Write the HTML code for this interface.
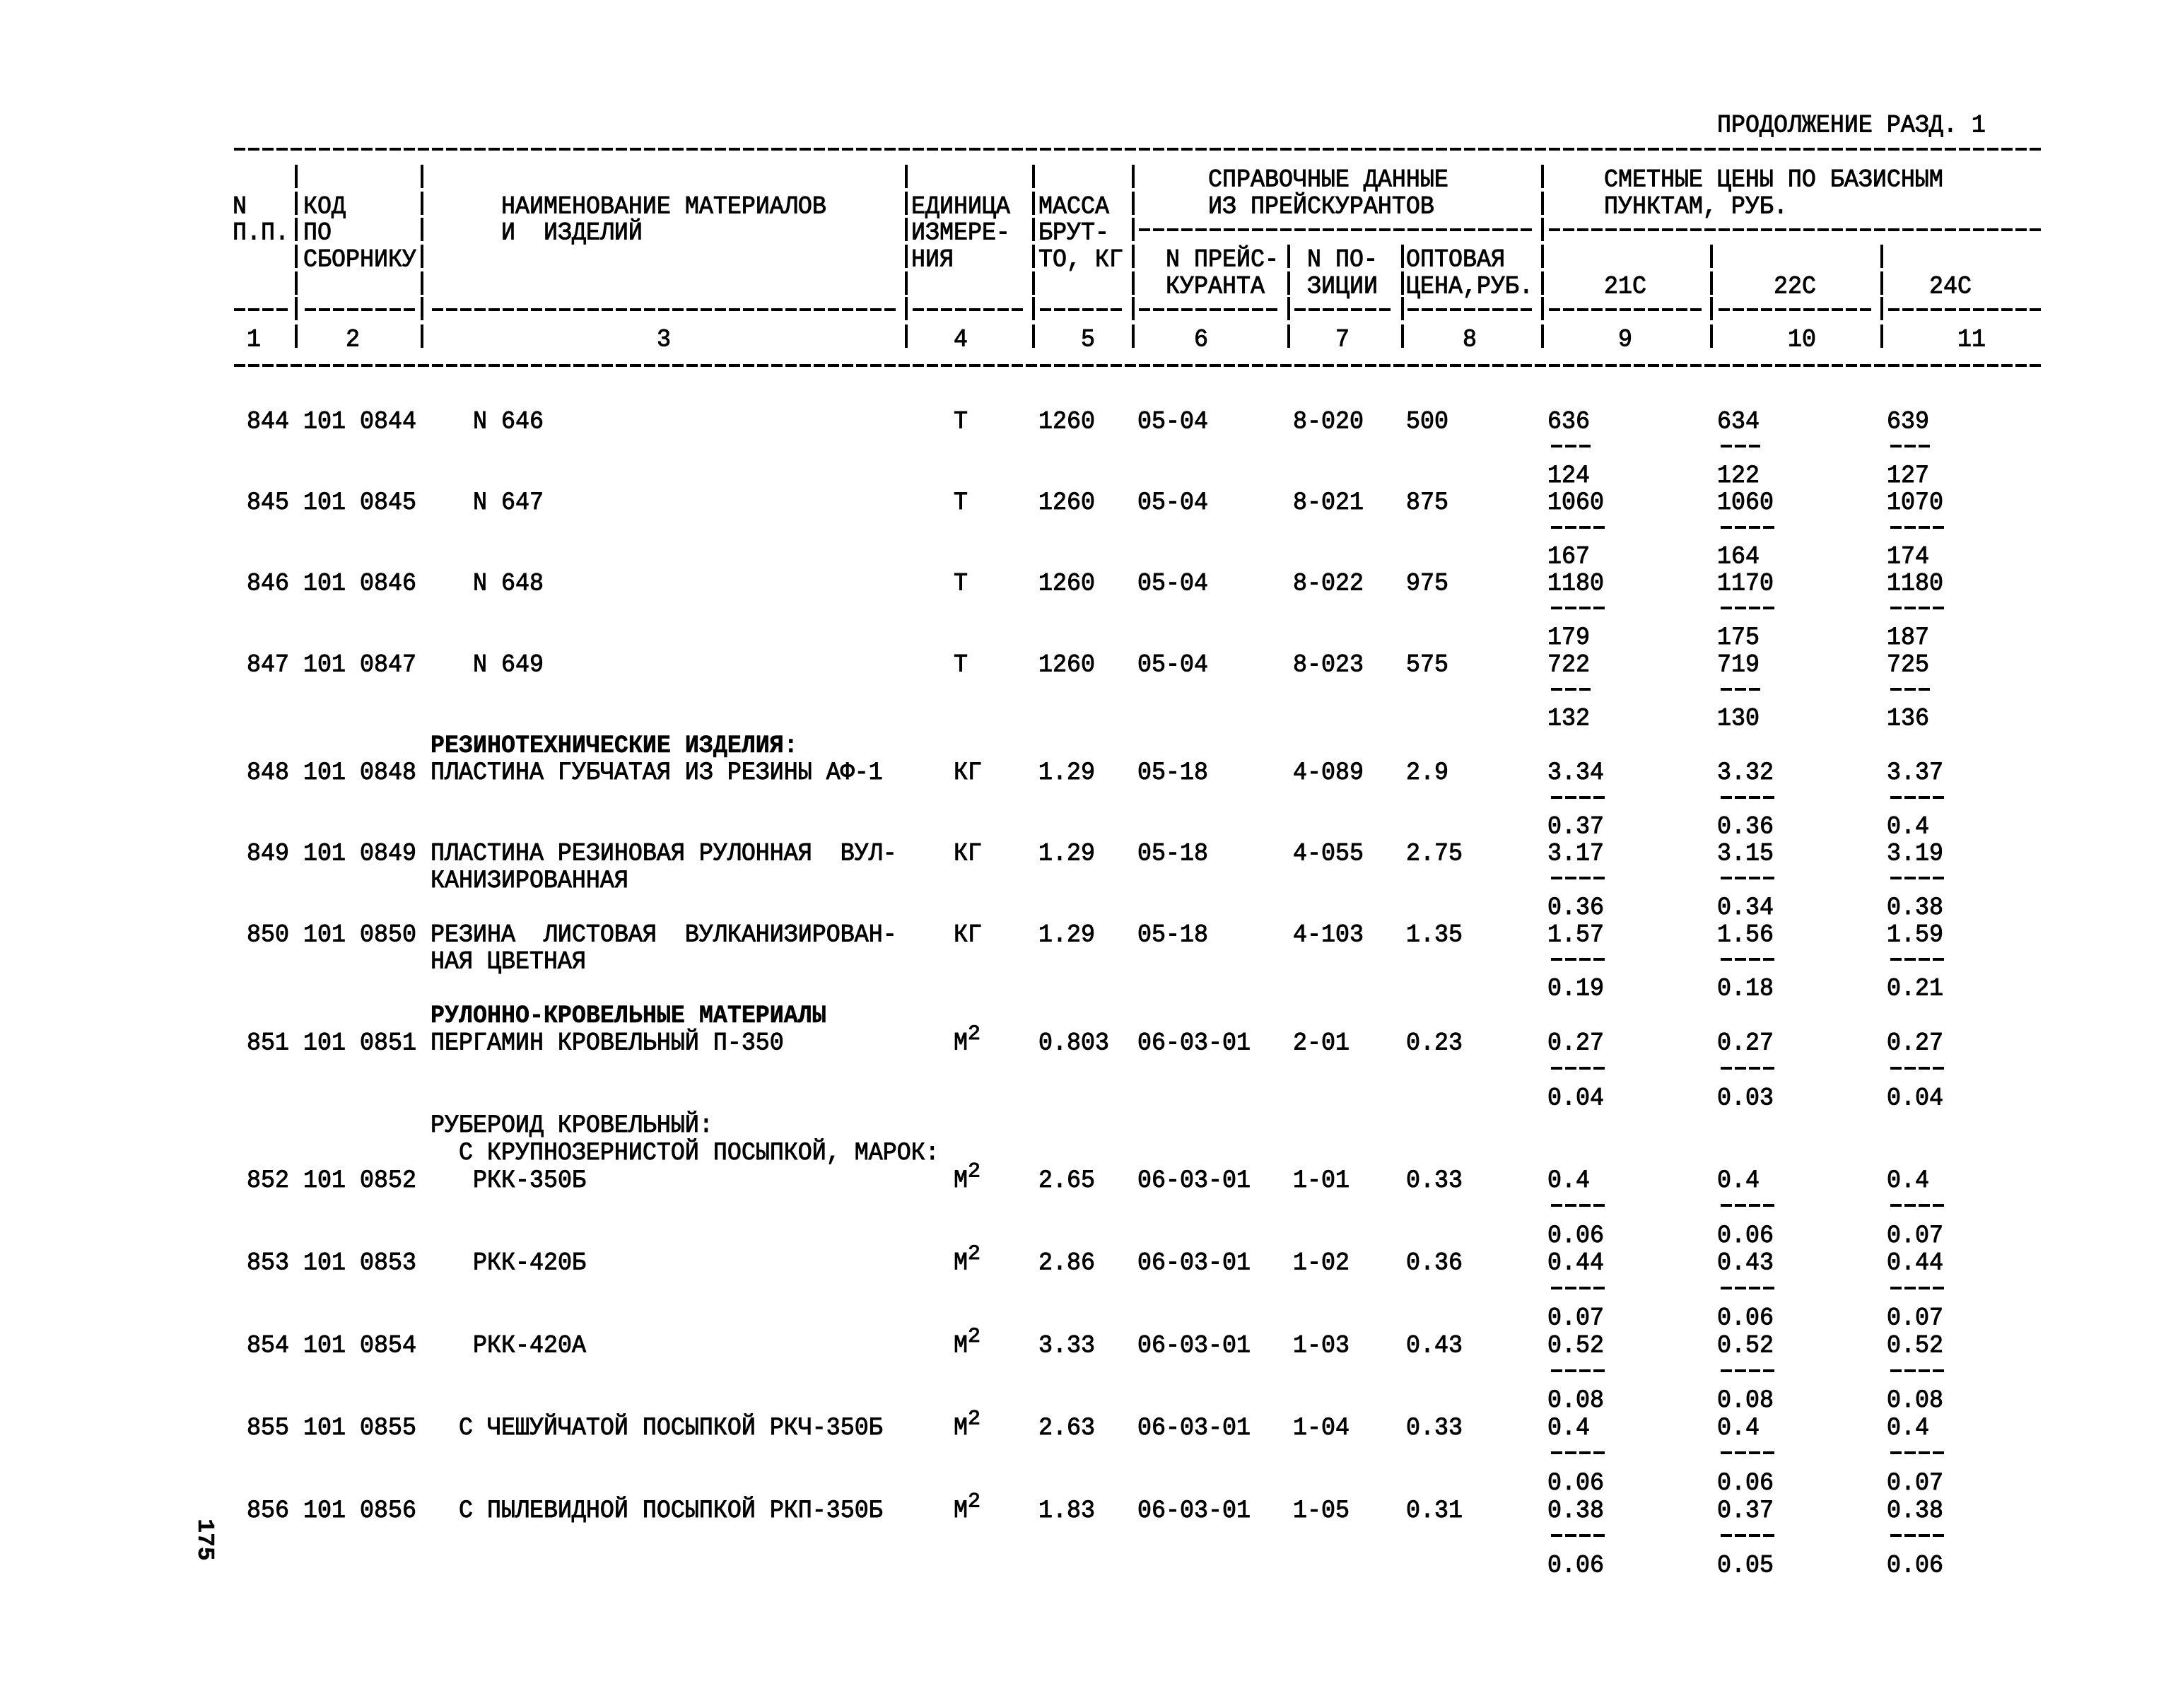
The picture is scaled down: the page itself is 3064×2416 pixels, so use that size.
<!DOCTYPE html>
<html><head><meta charset="utf-8">
<style>
html,body{margin:0;padding:0;background:#fff;}
svg{display:block}
text{font-family:"Liberation Mono","DejaVu Sans Mono",monospace;font-size:33.333px;fill:#000;white-space:pre;stroke:#000;stroke-width:0.9px;transform-box:fill-box;transform-origin:50% 50%;transform:scaleY(1.06)}
text.b{font-weight:bold;stroke-width:0.5px}
text.r{transform:none}
text.s{font-size:30px;transform:none}
line.d{stroke:#000;stroke-width:4;stroke-dasharray:16 4;fill:none}
path.v{stroke:#000;stroke-width:4;fill:none}
</style></head>
<body>
<svg width="3064" height="2416" viewBox="0 0 3064 2416" xmlns="http://www.w3.org/2000/svg" xml:space="preserve">
<rect width="3064" height="2416" fill="#fff"/>

<text x="2429" y="186">ПРОДОЛЖЕНИЕ РАЗД. 1</text>

<line class="d" x1="331" y1="211" x2="2887" y2="211"/>

<text x="1709" y="263">СПРАВОЧНЫЕ ДАННЫЕ</text>
<text x="2269" y="263">СМЕТНЫЕ ЦЕНЫ ПО БАЗИСНЫМ</text>
<text x="329" y="301">N</text>
<text x="429" y="301">КОД</text>
<text x="709" y="301">НАИМЕНОВАНИЕ МАТЕРИАЛОВ</text>
<text x="1289" y="301">ЕДИНИЦА</text>
<text x="1469" y="301">МАССА</text>
<text x="1709" y="301">ИЗ ПРЕЙСКУРАНТОВ</text>
<text x="2269" y="301">ПУНКТАМ, РУБ.</text>
<text x="329" y="338">П.П.</text>
<text x="429" y="338">ПО</text>
<text x="709" y="338">И  ИЗДЕЛИЙ</text>
<text x="1289" y="338">ИЗМЕРЕ-</text>
<text x="1469" y="338">БРУТ-</text>
<line class="d" x1="1611" y1="325" x2="2167" y2="325"/>
<line class="d" x1="2191" y1="325" x2="2887" y2="325"/>
<text x="429" y="376">СБОРНИКУ</text>
<text x="1289" y="376">НИЯ</text>
<text x="1469" y="376">ТО, КГ</text>
<text x="1649" y="376">N ПРЕЙС-</text>
<text x="1849" y="376">N ПО-</text>
<text x="1989" y="376">ОПТОВАЯ</text>
<text x="1649" y="414">КУРАНТА</text>
<text x="1849" y="414">ЗИЦИИ</text>
<text x="1989" y="414">ЦЕНА,РУБ.</text>
<text x="2269" y="414">21С</text>
<text x="2509" y="414">22С</text>
<text x="2729" y="414">24С</text>
<line class="d" x1="331" y1="438" x2="407" y2="438"/>
<line class="d" x1="431" y1="438" x2="587" y2="438"/>
<line class="d" x1="611" y1="438" x2="1267" y2="438"/>
<line class="d" x1="1291" y1="438" x2="1447" y2="438"/>
<line class="d" x1="1471" y1="438" x2="1587" y2="438"/>
<line class="d" x1="1611" y1="438" x2="1807" y2="438"/>
<line class="d" x1="1831" y1="438" x2="1967" y2="438"/>
<line class="d" x1="1991" y1="438" x2="2167" y2="438"/>
<line class="d" x1="2191" y1="438" x2="2407" y2="438"/>
<line class="d" x1="2431" y1="438" x2="2647" y2="438"/>
<line class="d" x1="2671" y1="438" x2="2887" y2="438"/>
<text x="349" y="489">1</text>
<text x="489" y="489">2</text>
<text x="929" y="489">3</text>
<text x="1349" y="489">4</text>
<text x="1529" y="489">5</text>
<text x="1689" y="489">6</text>
<text x="1889" y="489">7</text>
<text x="2069" y="489">8</text>
<text x="2289" y="489">9</text>
<text x="2529" y="489">10</text>
<text x="2769" y="489">11</text>
<line class="d" x1="331" y1="517" x2="2887" y2="517"/>

<path class="v" d="M419 233V266M419 271V304M419 308V341M419 346V379M419 384V417M419 420V453M419 459V492"/>
<path class="v" d="M597 233V266M597 271V304M597 308V341M597 346V379M597 384V417M597 420V453M597 459V492"/>
<path class="v" d="M1282 233V266M1282 271V304M1282 308V341M1282 346V379M1282 384V417M1282 420V453M1282 459V492"/>
<path class="v" d="M1462 233V266M1462 271V304M1462 308V341M1462 346V379M1462 384V417M1462 420V453M1462 459V492"/>
<path class="v" d="M1603 233V266M1603 271V304M1603 308V341M1603 346V379M1603 384V417M1603 420V453M1603 459V492"/>
<path class="v" d="M2182 233V266M2182 271V304M2182 308V341M2182 346V379M2182 384V417M2182 420V453M2182 459V492"/>
<path class="v" d="M1823 346V379M1823 384V417M1823 420V453M1823 459V492"/>
<path class="v" d="M1984 346V379M1984 384V417M1984 420V453M1984 459V492"/>
<path class="v" d="M2421 346V379M2421 384V417M2421 420V453M2421 459V492"/>
<path class="v" d="M2662 346V379M2662 384V417M2662 420V453M2662 459V492"/>

<!-- 844 -->
<text x="349" y="605">844</text><text x="429" y="605">101</text><text x="509" y="605">0844</text>
<text x="669" y="605">N 646</text><text x="1349" y="605">Т</text><text x="1469" y="605">1260</text>
<text x="1609" y="605">05-04</text><text x="1829" y="605">8-020</text><text x="1989" y="605">500</text>
<text x="2189" y="605">636</text><text x="2429" y="605">634</text><text x="2669" y="605">639</text>
<line class="d" x1="2194" y1="631" x2="2250" y2="631"/><line class="d" x1="2434" y1="631" x2="2490" y2="631"/><line class="d" x1="2674" y1="631" x2="2730" y2="631"/>
<text x="2189" y="681.4">124</text><text x="2429" y="681.4">122</text><text x="2669" y="681.4">127</text>

<!-- 845 -->
<text x="349" y="719.6">845</text><text x="429" y="719.6">101</text><text x="509" y="719.6">0845</text>
<text x="669" y="719.6">N 647</text><text x="1349" y="719.6">Т</text><text x="1469" y="719.6">1260</text>
<text x="1609" y="719.6">05-04</text><text x="1829" y="719.6">8-021</text><text x="1989" y="719.6">875</text>
<text x="2189" y="719.6">1060</text><text x="2429" y="719.6">1060</text><text x="2669" y="719.6">1070</text>
<line class="d" x1="2194" y1="746" x2="2270" y2="746"/><line class="d" x1="2434" y1="746" x2="2510" y2="746"/><line class="d" x1="2674" y1="746" x2="2750" y2="746"/>
<text x="2189" y="796">167</text><text x="2429" y="796">164</text><text x="2669" y="796">174</text>

<!-- 846 -->
<text x="349" y="834.2">846</text><text x="429" y="834.2">101</text><text x="509" y="834.2">0846</text>
<text x="669" y="834.2">N 648</text><text x="1349" y="834.2">Т</text><text x="1469" y="834.2">1260</text>
<text x="1609" y="834.2">05-04</text><text x="1829" y="834.2">8-022</text><text x="1989" y="834.2">975</text>
<text x="2189" y="834.2">1180</text><text x="2429" y="834.2">1170</text><text x="2669" y="834.2">1180</text>
<line class="d" x1="2194" y1="860" x2="2270" y2="860"/><line class="d" x1="2434" y1="860" x2="2510" y2="860"/><line class="d" x1="2674" y1="860" x2="2750" y2="860"/>
<text x="2189" y="910.6">179</text><text x="2429" y="910.6">175</text><text x="2669" y="910.6">187</text>

<!-- 847 -->
<text x="349" y="948.8">847</text><text x="429" y="948.8">101</text><text x="509" y="948.8">0847</text>
<text x="669" y="948.8">N 649</text><text x="1349" y="948.8">Т</text><text x="1469" y="948.8">1260</text>
<text x="1609" y="948.8">05-04</text><text x="1829" y="948.8">8-023</text><text x="1989" y="948.8">575</text>
<text x="2189" y="948.8">722</text><text x="2429" y="948.8">719</text><text x="2669" y="948.8">725</text>
<line class="d" x1="2194" y1="975" x2="2250" y2="975"/><line class="d" x1="2434" y1="975" x2="2490" y2="975"/><line class="d" x1="2674" y1="975" x2="2730" y2="975"/>
<text x="2189" y="1025.2">132</text><text x="2429" y="1025.2">130</text><text x="2669" y="1025.2">136</text>

<text class="b" x="609" y="1063.4">РЕЗИНОТЕХНИЧЕСКИЕ ИЗДЕЛИЯ:</text>

<!-- 848 -->
<text x="349" y="1101.6">848</text><text x="429" y="1101.6">101</text><text x="509" y="1101.6">0848</text>
<text x="609" y="1101.6">ПЛАСТИНА ГУБЧАТАЯ ИЗ РЕЗИНЫ АФ-1</text><text x="1349" y="1101.6">КГ</text><text x="1469" y="1101.6">1.29</text>
<text x="1609" y="1101.6">05-18</text><text x="1829" y="1101.6">4-089</text><text x="1989" y="1101.6">2.9</text>
<text x="2189" y="1101.6">3.34</text><text x="2429" y="1101.6">3.32</text><text x="2669" y="1101.6">3.37</text>
<line class="d" x1="2194" y1="1128" x2="2270" y2="1128"/><line class="d" x1="2434" y1="1128" x2="2510" y2="1128"/><line class="d" x1="2674" y1="1128" x2="2750" y2="1128"/>
<text x="2189" y="1178">0.37</text><text x="2429" y="1178">0.36</text><text x="2669" y="1178">0.4</text>

<!-- 849 -->
<text x="349" y="1216.2">849</text><text x="429" y="1216.2">101</text><text x="509" y="1216.2">0849</text>
<text x="609" y="1216.2">ПЛАСТИНА РЕЗИНОВАЯ РУЛОННАЯ  ВУЛ-</text><text x="1349" y="1216.2">КГ</text><text x="1469" y="1216.2">1.29</text>
<text x="1609" y="1216.2">05-18</text><text x="1829" y="1216.2">4-055</text><text x="1989" y="1216.2">2.75</text>
<text x="2189" y="1216.2">3.17</text><text x="2429" y="1216.2">3.15</text><text x="2669" y="1216.2">3.19</text>
<text x="609" y="1254.4">КАНИЗИРОВАННАЯ</text>
<line class="d" x1="2194" y1="1242" x2="2270" y2="1242"/><line class="d" x1="2434" y1="1242" x2="2510" y2="1242"/><line class="d" x1="2674" y1="1242" x2="2750" y2="1242"/>
<text x="2189" y="1292.6">0.36</text><text x="2429" y="1292.6">0.34</text><text x="2669" y="1292.6">0.38</text>

<!-- 850 -->
<text x="349" y="1330.8">850</text><text x="429" y="1330.8">101</text><text x="509" y="1330.8">0850</text>
<text x="609" y="1330.8">РЕЗИНА  ЛИСТОВАЯ  ВУЛКАНИЗИРОВАН-</text><text x="1349" y="1330.8">КГ</text><text x="1469" y="1330.8">1.29</text>
<text x="1609" y="1330.8">05-18</text><text x="1829" y="1330.8">4-103</text><text x="1989" y="1330.8">1.35</text>
<text x="2189" y="1330.8">1.57</text><text x="2429" y="1330.8">1.56</text><text x="2669" y="1330.8">1.59</text>
<text x="609" y="1369">НАЯ ЦВЕТНАЯ</text>
<line class="d" x1="2194" y1="1357" x2="2270" y2="1357"/><line class="d" x1="2434" y1="1357" x2="2510" y2="1357"/><line class="d" x1="2674" y1="1357" x2="2750" y2="1357"/>
<text x="2189" y="1407.2">0.19</text><text x="2429" y="1407.2">0.18</text><text x="2669" y="1407.2">0.21</text>

<text class="b" x="609" y="1445.4">РУЛОННО-КРОВЕЛЬНЫЕ МАТЕРИАЛЫ</text>

<!-- 851 -->
<text x="349" y="1484">851</text><text x="429" y="1484">101</text><text x="509" y="1484">0851</text>
<text x="609" y="1484">ПЕРГАМИН КРОВЕЛЬНЫЙ П-350</text>
<text x="1349" y="1484">М</text><text class="s" x="1369" y="1470">2</text>
<text x="1469" y="1484">0.803</text><text x="1609" y="1484">06-03-01</text><text x="1829" y="1484">2-01</text><text x="1989" y="1484">0.23</text>
<text x="2189" y="1484">0.27</text><text x="2429" y="1484">0.27</text><text x="2669" y="1484">0.27</text>
<line class="d" x1="2194" y1="1511" x2="2270" y2="1511"/><line class="d" x1="2434" y1="1511" x2="2510" y2="1511"/><line class="d" x1="2674" y1="1511" x2="2750" y2="1511"/>
<text x="2189" y="1561.8">0.04</text><text x="2429" y="1561.8">0.03</text><text x="2669" y="1561.8">0.04</text>

<text x="609" y="1600.7">РУБЕРОИД КРОВЕЛЬНЫЙ:</text>
<text x="649" y="1639.6">С КРУПНОЗЕРНИСТОЙ ПОСЫПКОЙ, МАРОК:</text>

<!-- 852 -->
<text x="349" y="1678.5">852</text><text x="429" y="1678.5">101</text><text x="509" y="1678.5">0852</text>
<text x="669" y="1678.5">РКК-350Б</text>
<text x="1349" y="1678.5">М</text><text class="s" x="1369" y="1664.5">2</text>
<text x="1469" y="1678.5">2.65</text><text x="1609" y="1678.5">06-03-01</text><text x="1829" y="1678.5">1-01</text><text x="1989" y="1678.5">0.33</text>
<text x="2189" y="1678.5">0.4</text><text x="2429" y="1678.5">0.4</text><text x="2669" y="1678.5">0.4</text>
<line class="d" x1="2194" y1="1705" x2="2270" y2="1705"/><line class="d" x1="2434" y1="1705" x2="2510" y2="1705"/><line class="d" x1="2674" y1="1705" x2="2750" y2="1705"/>
<text x="2189" y="1756.3">0.06</text><text x="2429" y="1756.3">0.06</text><text x="2669" y="1756.3">0.07</text>

<!-- 853 -->
<text x="349" y="1795.2">853</text><text x="429" y="1795.2">101</text><text x="509" y="1795.2">0853</text>
<text x="669" y="1795.2">РКК-420Б</text>
<text x="1349" y="1795.2">М</text><text class="s" x="1369" y="1781.2">2</text>
<text x="1469" y="1795.2">2.86</text><text x="1609" y="1795.2">06-03-01</text><text x="1829" y="1795.2">1-02</text><text x="1989" y="1795.2">0.36</text>
<text x="2189" y="1795.2">0.44</text><text x="2429" y="1795.2">0.43</text><text x="2669" y="1795.2">0.44</text>
<line class="d" x1="2194" y1="1822" x2="2270" y2="1822"/><line class="d" x1="2434" y1="1822" x2="2510" y2="1822"/><line class="d" x1="2674" y1="1822" x2="2750" y2="1822"/>
<text x="2189" y="1873">0.07</text><text x="2429" y="1873">0.06</text><text x="2669" y="1873">0.07</text>

<!-- 854 -->
<text x="349" y="1911.9">854</text><text x="429" y="1911.9">101</text><text x="509" y="1911.9">0854</text>
<text x="669" y="1911.9">РКК-420А</text>
<text x="1349" y="1911.9">М</text><text class="s" x="1369" y="1897.9">2</text>
<text x="1469" y="1911.9">3.33</text><text x="1609" y="1911.9">06-03-01</text><text x="1829" y="1911.9">1-03</text><text x="1989" y="1911.9">0.43</text>
<text x="2189" y="1911.9">0.52</text><text x="2429" y="1911.9">0.52</text><text x="2669" y="1911.9">0.52</text>
<line class="d" x1="2194" y1="1939" x2="2270" y2="1939"/><line class="d" x1="2434" y1="1939" x2="2510" y2="1939"/><line class="d" x1="2674" y1="1939" x2="2750" y2="1939"/>
<text x="2189" y="1989.7">0.08</text><text x="2429" y="1989.7">0.08</text><text x="2669" y="1989.7">0.08</text>

<!-- 855 -->
<text x="349" y="2028.6">855</text><text x="429" y="2028.6">101</text><text x="509" y="2028.6">0855</text>
<text x="649" y="2028.6">С ЧЕШУЙЧАТОЙ ПОСЫПКОЙ РКЧ-350Б</text>
<text x="1349" y="2028.6">М</text><text class="s" x="1369" y="2014.6">2</text>
<text x="1469" y="2028.6">2.63</text><text x="1609" y="2028.6">06-03-01</text><text x="1829" y="2028.6">1-04</text><text x="1989" y="2028.6">0.33</text>
<text x="2189" y="2028.6">0.4</text><text x="2429" y="2028.6">0.4</text><text x="2669" y="2028.6">0.4</text>
<line class="d" x1="2194" y1="2055" x2="2270" y2="2055"/><line class="d" x1="2434" y1="2055" x2="2510" y2="2055"/><line class="d" x1="2674" y1="2055" x2="2750" y2="2055"/>
<text x="2189" y="2106.4">0.06</text><text x="2429" y="2106.4">0.06</text><text x="2669" y="2106.4">0.07</text>

<!-- 856 -->
<text x="349" y="2145.3">856</text><text x="429" y="2145.3">101</text><text x="509" y="2145.3">0856</text>
<text x="649" y="2145.3">С ПЫЛЕВИДНОЙ ПОСЫПКОЙ РКП-350Б</text>
<text x="1349" y="2145.3">М</text><text class="s" x="1369" y="2131.3">2</text>
<text x="1469" y="2145.3">1.83</text><text x="1609" y="2145.3">06-03-01</text><text x="1829" y="2145.3">1-05</text><text x="1989" y="2145.3">0.31</text>
<text x="2189" y="2145.3">0.38</text><text x="2429" y="2145.3">0.37</text><text x="2669" y="2145.3">0.38</text>
<line class="d" x1="2194" y1="2172" x2="2270" y2="2172"/><line class="d" x1="2434" y1="2172" x2="2510" y2="2172"/><line class="d" x1="2674" y1="2172" x2="2750" y2="2172"/>
<text x="2189" y="2223.1">0.06</text><text x="2429" y="2223.1">0.05</text><text x="2669" y="2223.1">0.06</text>

<g transform="translate(292,2178) rotate(90)">
<text class="b r" x="0" y="11" text-anchor="middle" style="font-size:33px">175</text>
</g>
</svg>
</body></html>
